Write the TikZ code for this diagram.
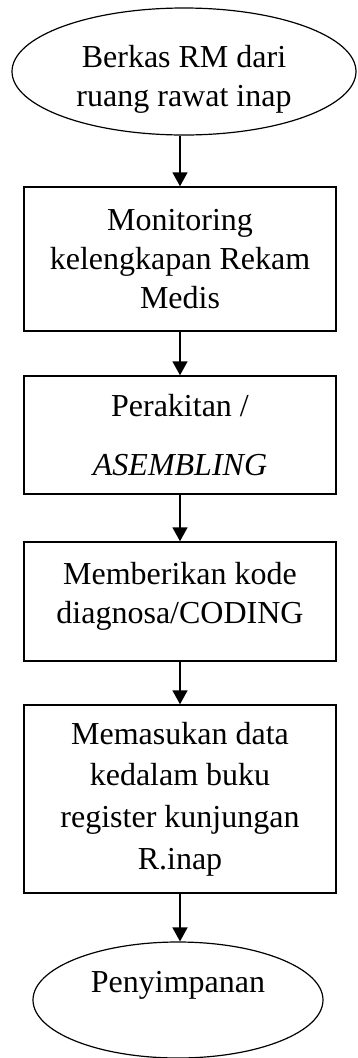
\documentclass[tikz,border=0pt]{standalone}
\usepackage{fontspec}
\setmainfont{Liberation Serif}
\usetikzlibrary{shapes.geometric,arrows.meta}
\begin{document}
\begin{tikzpicture}[x=1pt,y=1pt,
  every node/.style={font=\fontsize{32pt}{39pt}\selectfont, align=center},
  procbox/.style={draw, line width=1.5pt, rectangle, minimum width=312pt, inner sep=0pt},
  terminal/.style={draw, line width=1.2pt, ellipse, inner sep=0pt},
  arr/.style={line width=1.7pt, -{Triangle[width=15pt,length=14pt]}}]
\useasboundingbox (0,0) rectangle (357,-1058);
\node[terminal, minimum width=344pt, minimum height=127pt,
  label={[yshift=-8pt]center:{Berkas RM dari\\ruang rawat inap}}] (e1) at (184,-71.5) {};
\node[procbox, minimum height=144pt] (b1) at (180,-259) {Monitoring\\kelengkapan Rekam\\Medis};
\node[procbox, minimum height=118pt] (b2) at (180,-435) {Perakitan /\\[20pt]\textit{ASEMBLING}};
\node[procbox, minimum height=119pt,
  label={[yshift=5pt]center:{Memberikan kode\\diagnosa/CODING}}] (b3) at (180,-601.5) {};
\node[procbox, minimum height=188pt] (b4) at (180,-799) {Memasukan data\\[2.7pt]kedalam buku\\[2.7pt]register kunjungan\\[2.7pt]R.inap};
\node[terminal, minimum width=290pt, minimum height=116pt,
  label={[yshift=15pt]center:{Penyimpanan}}] (e2) at (178,-1000) {};
\draw[arr] (b1.north |- e1.south) -- (b1.north);
\draw[arr] (b1.south) -- (b2.north);
\draw[arr] (b2.south) -- (b3.north);
\draw[arr] (b3.south) -- (b4.north);
\draw[arr] (b4.south) -- (b4.south |- e2.north);
\end{tikzpicture}
\end{document}
